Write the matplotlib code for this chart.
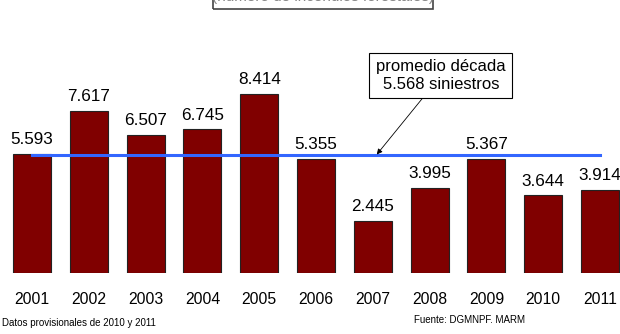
import matplotlib.pyplot as plt
import matplotlib.patches as mpatches

plt.rcParams['font.family'] = ['Liberation Sans', 'DejaVu Sans']

years = ['2001', '2002', '2003', '2004', '2005', '2006', '2007', '2008', '2009', '2010', '2011']
siniestros = [5593, 7617, 6507, 6745, 8414, 5355, 2445, 3995, 5367, 3644, 3914]
promedio = 5568


def fmt(v):
    return f"{v:,}".replace(",", ".")


fig = plt.figure(figsize=(6.2, 3.34), dpi=100)
ax = fig.add_axes([0, 61 / 334, 1, 273 / 334])

x = range(len(years))
ax.bar(x, siniestros, width=0.67, color='#800000', edgecolor='#222222', linewidth=0.8, zorder=2)

for i, v in enumerate(siniestros):
    ax.annotate(fmt(v), (i, v), xytext=(0, 5), textcoords='offset points',
                ha='center', va='bottom', fontsize=12.3)

# average line
ax.plot([0, len(years) - 1], [promedio, promedio], color='#3366ff', linewidth=2.2, zorder=3)

ax.annotate(f"promedio década\n{fmt(promedio)} siniestros",
            xy=(6.07, promedio), xycoords='data',
            xytext=(7.2, 9280), textcoords='data',
            ha='center', va='center', fontsize=12, linespacing=1.2,
            bbox=dict(boxstyle='square,pad=0.4', fc='white', ec='black', lw=0.8),
            arrowprops=dict(arrowstyle='-|>', color='black', lw=0.6,
                            mutation_scale=8, shrinkA=0, shrinkB=0))

step = 56.8
ax.set_xlim(-32 / step, (620 - 32) / step)
ax.set_ylim(0, 273 / 0.02128)
ax.set_xticks(list(x))
ax.set_xticklabels(years, fontsize=11.3)
ax.tick_params(axis='x', length=0, pad=14)
ax.set_yticks([])
for s in ax.spines.values():
    s.set_visible(False)

# title box clipped at the top edge
fig.patches.append(mpatches.Rectangle((213 / 620, (334 - 9) / 334), 220 / 620, 0.2,
                                      transform=fig.transFigure, fill=False,
                                      edgecolor='#444444', linewidth=1.2))
fig.text(323 / 620, 333 / 334, "(número de incendios forestales)", ha='center',
         va='baseline', fontsize=11, color='#888888')

fig.text(2 / 620, 6 / 334, "Datos provisionales de 2010 y 2011", fontsize=7, ha='left', va='bottom')
fig.text(414 / 620, 9 / 334, "Fuente: DGMNPF. MARM", fontsize=7, ha='left', va='bottom')

fig.savefig('out.png', dpi=100)
